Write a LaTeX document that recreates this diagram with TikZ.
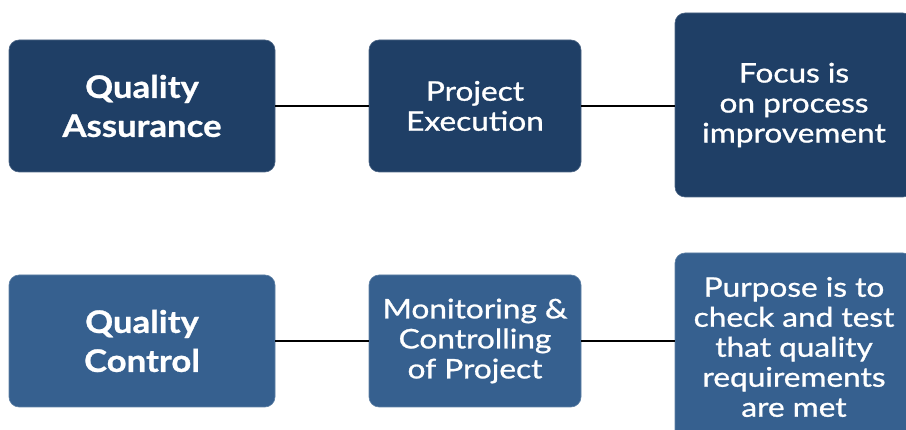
\documentclass[tikz,border=0pt]{standalone}
\usepackage{fontspec}
\setmainfont{Lato}
\newfontfamily\medfont[FakeBold=1,FakeStretch=1.17]{Lato}
\newfontfamily\heavyfont[FakeBold=0.8,FakeStretch=1.12]{Lato Bold}
\definecolor{navy}{RGB}{31,63,102}
\definecolor{steel}{RGB}{54,96,143}
\begin{document}
\begin{tikzpicture}[x=1pt,y=-1pt,
  box/.style={rectangle, rounded corners=10pt, text=white, align=center, inner sep=0pt},
  topbox/.style={box, fill=navy, draw=navy!80!white, line width=0.6pt},
  botbox/.style={box, fill=steel, draw=steel!80!white, line width=0.6pt},
  bigtxt/.style={font=\fontsize{31}{39}\selectfont\heavyfont},
  medtxt/.style={font=\fontsize{27}{30}\selectfont\medfont},
  link/.style={draw=black, line width=2pt}]
\useasboundingbox (0,0) rectangle (906,430);
\node[topbox, bigtxt, minimum width=266pt, minimum height=132pt] (qa) at (142,106) {Quality\\Assurance};
\node[topbox, medtxt, minimum width=212pt, minimum height=132pt] (pe) at (475,106) {Project\\Execution};
\node[topbox, medtxt, minimum width=238pt, minimum height=184pt] (fo) at (794,105) {Focus is\\on process\\improvement};
\node[botbox, bigtxt, minimum width=266pt, minimum height=132pt] (qc) at (142,341) {Quality\\Control};
\node[botbox, medtxt, minimum width=212pt, minimum height=132pt] (mc) at (475,341) {Monitoring \&\\Controlling\\of Project};
\node[botbox, medtxt, minimum width=238pt, minimum height=188pt] (pu) at (794,347) {Purpose is to\\check and test\\that quality\\requirements\\are met};
\draw[link] (qa.east) -- (pe.west);
\draw[link] (pe.east) -- (fo.west |- pe.east);
\draw[link] (qc.east) -- (mc.west);
\draw[link] (mc.east) -- (pu.west |- mc.east);
\end{tikzpicture}
\end{document}
